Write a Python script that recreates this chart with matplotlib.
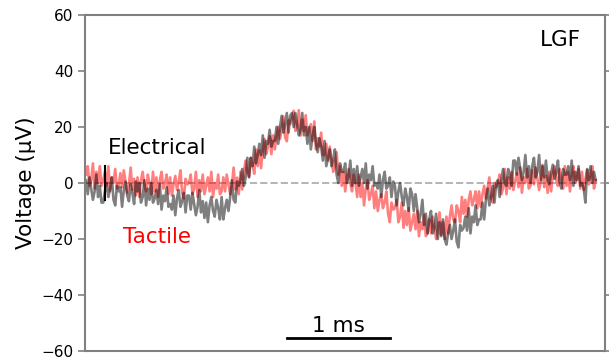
import numpy as np
import matplotlib
matplotlib.use("Agg")
import matplotlib.pyplot as plt

# sample spacing of the recordings (ms)
dt = 1 / 60

# averaged evoked response, electrical stimulation (uV)
electrical = [
    1, -4, 2, -2, -6, -3, 3, -5, -1, -7,
    -7, -3, 0, -5, -2, 2, -6, -8, -1, -3,
    -1.5, -8.5, -2.5, 0.5, -4.5, -6.5, -0.5, -3.5, -7.5, 0.5,
    -3, 0, -7, -5, 1, -8, -2, -6, 0, -7,
    -5.5, -2.5, -7.5, -0.5, -9.5, -4.5, -6.5, -1.5, -8.5, -7.5,
    -9.5, -4.5, -11.5, -5.5, -2.5, -8.5, -6.5, -3.5, -10.5, -4.5,
    -4.5, -9.5, -3.5, -7.5, -11.5, -8.5, -2.5, -10.5, -6.5, -12.5,
    -7, -14, -8, -5, -10, -12, -6, -9, -13, -5,
    -13, -9, -6, -10, -5, 1, -6, -7, 0.5, -1,
    1, 5, -1, 2, 9, 2, 9, 6, 13, 7,
    10, 14, 10, 17, 9, 15, 14, 19, 13, 15,
    15, 20, 14, 20, 24, 18, 21, 25, 18, 24,
    25, 20, 25, 21, 17, 19, 25, 17, 20, 14,
    20, 12, 17, 20, 14, 11, 16, 13, 8, 15,
    6, 9, 12, 6, 8, 12, 3, 0, 7, 4,
    4, 7, 0, 2, 8, -1, 5, 0, 6, -1,
    2, 5, 0, 7, -2, 3, 1, 6, -1, 0,
    -2, 3, -5, 1, 4, -2, -1, 2, -5, 0.5,
    -1, -8, -3, 0, -5, -8, -2, -5, -10, -2,
    -4, -10, -4, -9, -14, -11, -6, -15, -11, -18,
    -13, -10, -18, -16, -11, -20, -14, -19, -13, -20,
    -22, -18, -15, -20, -17, -13, -21, -23, -15, -17,
    -16, -12, -17, -9, -18, -12, -14, -8, -15, -13,
    -13, -7, -13, -6, -2, -8, -5, -1, -7, 0,
    1, -5, 1, 5, 0, -1, 5, 3, -1, 8,
    8, 3, 9, 5, 1, 4, 10, 2, 6, 0,
    6, 9, 2, 4, 10, 1, 6, 2, 8, 1,
    -0.5, 3.5, 6.5, 1.5, 4, 8, 0, -2, 5, 3,
    3, 6, 1, 8, -1, 4, 1, 6, -1, 0,
    -2, -7, 5, 1, 6, 0, 4, 1,
]

# averaged evoked response, tactile stimulation (uV)
tactile = [
    3, 6, -1, 1, 7, -2, 4, 0, 6, -1,
    1, 4, -1, 6, -3, 2, 0, 5, -2, -1,
    3.5, -1.5, 4.5, 0.5, -3.5, -0.5, 5.5, -2.5, 1.5, -4.5,
    2, -5, 1, 4, -1, -3, 3, 0, -4, 4,
    -3, 2, -5, 1, 4, -2, 0, 3, -4, 2,
    -4.5, -0.5, 2.5, -2.5, 0.5, 4.5, -3.5, -5.5, 1.5, -0.5,
    0, 3, -4, -2, 4, -5, 1, -3, 3, -4,
    -1, 2, -3, 4, -5, 0, -2, 3, -4, -3,
    2, -3, 3, -0.5, -4, -0.7, 5.5, -2.3, 1.9, -4,
    4, -2.3, 4.3, 8, 3.7, 2.3, 9, 6.7, 3.3, 12,
    6, 11.7, 5.3, 12, 15.7, 10.3, 13, 16.7, 10.3, 17,
    12, 16.6, 20.1, 15.7, 19.2, 23.8, 16.3, 14.9, 22.4, 21,
    23, 25.8, 18.6, 20.3, 26, 16.9, 22.7, 18.4, 24.2, 17,
    19, 21, 15, 22, 12, 16, 13, 18, 10, 10,
    14, 8, 13, 9, 4, 6, 11, 3, 6, -1,
    4, -3, 2, 5, 0, -3, 3, 0, -5, 3,
    -5, 0, -8, -2, 1, -6, -4, -1, -9, -3,
    -10, -6, -4, -9, -7, -3, -11, -14, -7, -9.5,
    -9, -6, -14, -12, -7, -16, -10, -15, -9, -17,
    -14, -11, -16.5, -10, -19, -14, -16.5, -11.5, -19, -18,
    -13, -18, -12, -16, -20, -16.5, -10.5, -18.5, -14, -20,
    -12, -18, -12, -8, -13, -14, -8, -10, -14, -5,
    -11, -6, -12, -6, -3, -8, -6, -3, -9, -3,
    -8.5, -4, -1, -5.5, -2, 2, -5.5, -7, 0, -1.5,
    0, 3, -4, -2, 5, -4, 2, -2, 4, -2.5,
    0.5, 3.5, -1.5, 5.5, -3.5, 2, 0, 5, -2, -1,
    4.5, -0.5, 5.5, 1.5, -2.5, 0.5, 6.5, -1.5, 2.5, -3.5,
    4, -3, 3, 6, 1, -1, 5, 2, -2, 6,
    -1, 4, -3, 3, 6, 0, 2, 5, -2, 4,
    -2.5, 1.5, 4.5, -0.5, 2.5, 6, -2, 1,
]

stim_time = 0.185   # stimulus marker (ms)
stim_span = [-6, 6]
scale_bar = [1.95, 2.95]

t = np.arange(len(electrical)) * dt

fig = plt.figure(figsize=(6.09, 3.62), dpi=100)
ax = fig.add_axes([0.1396, 0.0304, 0.8538, 0.9282])

ax.axhline(0, color="#b4b4b4", ls="--", lw=1.4, zorder=0)
ax.plot(t, tactile, color="red", alpha=0.5, lw=1.9)
ax.plot(t, electrical, color="black", alpha=0.5, lw=1.9)
ax.plot([stim_time, stim_time], stim_span, color="black", lw=1.5)

# scale bar
ax.plot(scale_bar, [-55.5, -55.5], color="black", lw=2)
ax.text(np.mean(scale_bar), -51, "1 ms", ha="center", va="center", fontsize=15.5)

ax.text(0.21, 12.5, "Electrical", ha="left", va="center", fontsize=15.5)
ax.text(0.36, -19.3, "Tactile", ha="left", va="center", fontsize=15.5, color="red")
ax.text(4.61, 51, "LGF", ha="center", va="center", fontsize=15.5)

ax.set_xlim(-0.01, 5.04)
ax.set_ylim(-60, 60)
ax.set_yticks([-60, -40, -20, 0, 20, 40, 60])
ax.set_xticks([])
ax.set_ylabel("Voltage (µV)", fontsize=15.5)
ax.tick_params(axis="y", labelsize=11, right=True, color="#808080", width=1.2, length=5)
for s in ax.spines.values():
    s.set_color("#808080")
    s.set_linewidth(1.5)

fig.savefig("out.png", dpi=100)
